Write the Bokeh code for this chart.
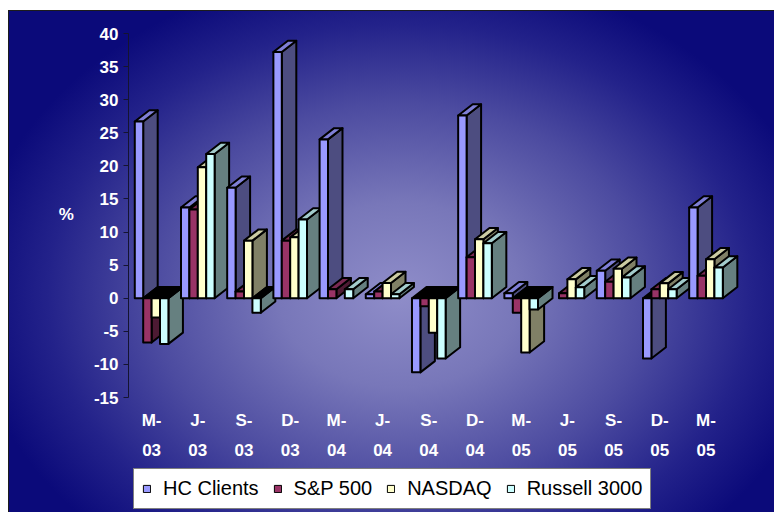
from bokeh.plotting import figure
from bokeh.models import Range1d, FixedTicker, Legend, LegendItem, ColumnDataSource, LinearAxis
from bokeh.embed import file_html
from bokeh.resources import INLINE

# ---- data (percent returns by quarter) ----
quarters = ["M-03", "J-03", "S-03", "D-03", "M-04", "J-04", "S-04", "D-04",
            "M-05", "J-05", "S-05", "D-05", "M-05"]
series_names = ["HC Clients", "S&P 500", "NASDAQ", "Russell 3000"]
hc_clients = [26.7, 13.7, 16.7, 37.2, 24.0, 0.6, -11.2, 27.6, 0.75, 0.0, 4.15, -9.1, 13.7]
sp500 = [-6.7, 13.4, 1.0, 8.7, 1.35, 1.0, -1.2, 6.2, -2.2, 0.75, 2.5, 1.35, 3.4]
nasdaq = [-2.9, 19.8, 8.7, 9.2, 0.0, 2.3, -5.2, 8.9, -8.2, 2.85, 4.45, 2.25, 5.9]
russell = [-6.9, 21.8, -2.2, 11.9, 1.35, 0.6, -9.1, 8.3, -1.7, 1.65, 3.15, 1.35, 4.65]
y_ticks = [-15, -10, -5, 0, 5, 10, 15, 20, 25, 30, 35, 40]

# ---- styling ----
front_colors = ["#9999FF", "#993366", "#FFFFCC", "#CCFFFF"]
top_colors = ["#7f7fd6", "#7a2952", "#cccca3", "#a3cccc"]
side_colors = ["#4d4d80", "#4d1a33", "#808066", "#668080"]
FONT = "Liberation Sans"

bar_w = 0.182      # front face width (category units)
dx = 0.314         # 3-D depth offset, x (category units)
dy = 1.70          # 3-D depth offset, y (value units)

# frame extends below the value axis so the legend can sit inside it
px_per_unit = 364 / 55.0
y_bottom = -15 - 115 / px_per_unit

p = figure(frame_width=617, frame_height=479, output_backend="svg", toolbar_location=None,
           x_range=Range1d(-0.5, 12.855), y_range=Range1d(y_bottom, 40),
           min_border_left=120, min_border_right=29, min_border_top=23,
           min_border_bottom=0, x_axis_location=None)
p.margin = (10, 0, 0, 8)
p.styles = {
    "background": "radial-gradient(ellipse 430px 330px at 392px 285px, "
                  "#8f8dc9 0%, #7877b9 28%, #4c4ba0 58%, #23228a 82%, #0b0a7a 100%)",
    "box-shadow": "inset 1px 1px 0 #1c1c1c",
}
p.border_fill_color = None
p.background_fill_color = None
p.outline_line_color = None
p.grid.visible = False

# build 3-D bar faces from the data arrays
all_series = [hc_clients, sp500, nasdaq, russell]
xs, ys, fills = [], [], []
for i in range(len(quarters)):
    for s, vals in enumerate(all_series):
        v = vals[i]
        if v == 0:
            continue
        x0 = i - 2 * bar_w + s * bar_w
        x1 = x0 + bar_w
        ytop = max(v, 0.0)
        xs.append([x1, x1 + dx, x1 + dx, x1])          # side face
        ys.append([0, dy, v + dy, v])
        fills.append(side_colors[s])
        xs.append([x0, x1, x1 + dx, x0 + dx])          # top face
        ys.append([ytop, ytop, ytop + dy, ytop + dy])
        fills.append(top_colors[s] if v > 0 else "#000000")
        xs.append([x0, x1, x1, x0])                    # front face
        ys.append([0, 0, v, v])
        fills.append(front_colors[s])

src = ColumnDataSource(dict(xs=xs, ys=ys, fill=fills))
p.patches("xs", "ys", source=src, fill_color="fill", line_color="black",
          line_width=2, line_join="round")

# x axes: two stacked label rows, anchored at the -15 floor
ticks = list(range(len(quarters)))
for row, standoff in ((0, 13), (1, 46)):
    ax = LinearAxis(ticker=FixedTicker(ticks=ticks), fixed_location=-15)
    ax.major_label_overrides = {i: (q.split("-")[0] + "-") if row == 0 else q.split("-")[1]
                                for i, q in enumerate(quarters)}
    ax.axis_line_color = None
    ax.major_tick_line_color = None
    ax.major_tick_out = 0
    ax.major_tick_in = 0
    ax.minor_tick_line_color = None
    ax.minor_tick_out = 0
    ax.major_label_text_font = FONT
    ax.major_label_text_font_style = "bold"
    ax.major_label_text_font_size = "17px"
    ax.major_label_text_color = "white"
    ax.major_label_standoff = standoff
    p.add_layout(ax, "below")

# legend renderers (one per series)
items = []
for s, name in enumerate(series_names):
    r = p.patches(xs=[[]], ys=[[]], fill_color=front_colors[s], line_color="black", line_width=1)
    items.append(LegendItem(label=name, renderers=[r]))

legend = Legend(items=items, orientation="horizontal", location=(5, 3),
                label_text_font=FONT, label_text_font_size="20px",
                label_text_color="black", glyph_width=9, glyph_height=9,
                label_standoff=12, spacing=14, padding=8, margin=0,
                border_line_color="black", border_line_width=1,
                background_fill_color="white", background_fill_alpha=1)
p.add_layout(legend)

# y axis
yax = p.yaxis[0]
yax.ticker = FixedTicker(ticks=y_ticks)
yax.bounds = (-15, 40)
yax.major_label_overrides = {t: str(t) for t in y_ticks}
yax.axis_line_color = "#141430"
yax.major_tick_line_color = "#141430"
yax.major_tick_out = 5
yax.major_tick_in = 0
yax.minor_tick_line_color = None
yax.major_label_text_font = FONT
yax.major_label_text_font_style = "bold"
yax.major_label_text_font_size = "17px"
yax.major_label_text_color = "white"
yax.major_label_standoff = 5
# second (blank) line lifts the label to the middle of the -15..40 span
yax.axis_label = "%\n "
yax.axis_label_orientation = "horizontal"
yax.axis_label_text_font = FONT
yax.axis_label_text_font_style = "bold"
yax.axis_label_text_font_size = "17px"
yax.axis_label_text_line_height = 6.2
yax.axis_label_text_color = "white"
yax.axis_label_standoff = 17

open("out.html", "w").write(file_html(p, INLINE))
